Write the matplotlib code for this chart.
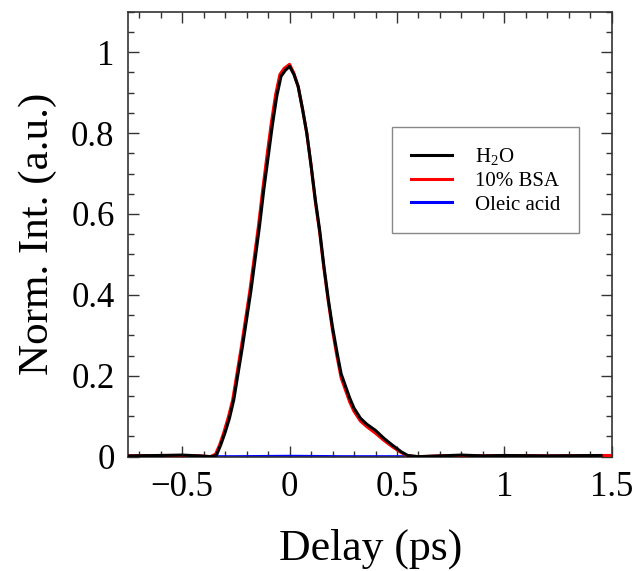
import matplotlib as mpl
import matplotlib.pyplot as plt
from matplotlib.ticker import MultipleLocator

mpl.rcParams.update({
    "font.family": "serif",
    "font.serif": ["Liberation Serif", "DejaVu Serif"],
    "mathtext.fontset": "custom",
    "mathtext.rm": "Liberation Serif",
    "mathtext.it": "Liberation Serif:italic",
})

# ----- data -----
x_h2o = [-0.75, -0.6, -0.5, -0.42, -0.36, -0.34, -0.32, -0.30, -0.28, -0.26,
         -0.24, -0.22, -0.20, -0.18, -0.16, -0.14, -0.12, -0.10, -0.08, -0.06,
         -0.04, -0.02, 0.00, 0.02, 0.04, 0.06, 0.08, 0.10, 0.12, 0.14,
         0.16, 0.18, 0.20, 0.22, 0.24, 0.26, 0.28, 0.30, 0.33, 0.36,
         0.40, 0.44, 0.48, 0.52, 0.55, 0.6, 0.7, 0.8, 0.9, 1.0, 1.2, 1.45]
y_h2o = [0.002, 0.003, 0.004, 0.002, 0.000, 0.004, 0.030, 0.060, 0.095, 0.140,
         0.205, 0.270, 0.340, 0.410, 0.490, 0.570, 0.660, 0.740, 0.820, 0.890,
         0.940, 0.955, 0.965, 0.945, 0.915, 0.860, 0.800, 0.720, 0.635, 0.560,
         0.470, 0.390, 0.320, 0.260, 0.205, 0.175, 0.145, 0.120, 0.095, 0.080,
         0.065, 0.045, 0.028, 0.012, 0.003, 0.000, 0.002, 0.004, 0.002, 0.003,
         0.002, 0.003]

x_bsa = [-0.75, -0.6, -0.5, -0.42, -0.37, -0.345, -0.325, -0.305, -0.285, -0.265,
         -0.245, -0.225, -0.205, -0.185, -0.165, -0.145, -0.125, -0.105, -0.085, -0.065,
         -0.045, -0.025, 0.00, 0.02, 0.04, 0.06, 0.08, 0.10, 0.12, 0.14,
         0.16, 0.18, 0.20, 0.22, 0.24, 0.26, 0.28, 0.30, 0.33, 0.36,
         0.40, 0.44, 0.48, 0.52, 0.55, 0.6, 0.7, 0.8, 0.9, 1.0, 1.2, 1.49]
y_bsa = [0.002, 0.003, 0.003, 0.002, 0.000, 0.006, 0.030, 0.062, 0.098, 0.140,
         0.205, 0.270, 0.340, 0.410, 0.490, 0.570, 0.660, 0.745, 0.825, 0.895,
         0.945, 0.960, 0.970, 0.948, 0.915, 0.860, 0.800, 0.720, 0.630, 0.555,
         0.465, 0.385, 0.312, 0.250, 0.195, 0.165, 0.135, 0.112, 0.088, 0.074,
         0.058, 0.040, 0.024, 0.010, 0.002, 0.000, 0.002, 0.003, 0.002, 0.003,
         0.002, 0.003]

x_oleic = [-0.75, -0.5, -0.25, 0.0, 0.25, 0.5, 0.75, 1.0, 1.25, 1.5]
y_oleic = [0.0, 0.0, 0.0, 0.001, 0.0, 0.0, 0.0, 0.0, 0.0, 0.0]

# ----- figure -----
fig = plt.figure(figsize=(6.32, 5.71), dpi=100)
ax = fig.add_axes([0.2033, 0.2002, 0.7647, 0.7793])

ax.plot(x_oleic, y_oleic, color='#0000ff', lw=2.2, label='Oleic acid', zorder=2)
ax.plot(x_bsa, y_bsa, color='#ff0000', lw=2.2, label='10% BSA', zorder=3)
ax.plot(x_h2o, y_h2o, color='black', lw=2.2, label='H$_2$O', zorder=4)

ax.set_xlim(-0.75, 1.5)
ax.set_ylim(0, 1.1)
ax.set_xticks([-0.5, 0, 0.5, 1, 1.5])
ax.set_xticklabels(['\u22120.5', '0', '0.5', '1', '1.5'])
ax.set_yticks([0, 0.2, 0.4, 0.6, 0.8, 1])
ax.set_yticklabels(['0', '0.2', '0.4', '0.6', '0.8', '1'])
ax.xaxis.set_minor_locator(MultipleLocator(0.1))
ax.yaxis.set_minor_locator(MultipleLocator(0.05))
ax.tick_params(which='both', direction='in', top=True, right=True,
               labelsize=25, color='#333333')
ax.tick_params(which='major', length=8, width=1.0, pad=10)
ax.tick_params(which='minor', length=4, width=1.0)
for s in ax.spines.values():
    s.set_linewidth(1.2)
    s.set_color('#333333')

ax.set_xlabel('Delay (ps)', fontsize=31.5, labelpad=18)
ax.set_ylabel('Norm. Int. (a.u.)', fontsize=31, labelpad=10)

handles, labels = ax.get_legend_handles_labels()
order = [2, 1, 0]
leg = ax.legend([handles[i] for i in order], [labels[i] for i in order],
                loc='upper left', bbox_to_anchor=(0.545, 0.74),
                fontsize=15, handlelength=2.0, handletextpad=1.1,
                labelspacing=0.2, borderpad=0.9, borderaxespad=0,
                fancybox=False, framealpha=1, edgecolor='#888888')
leg.get_frame().set_linewidth(1.0)

fig.savefig('out.png', dpi=100)
